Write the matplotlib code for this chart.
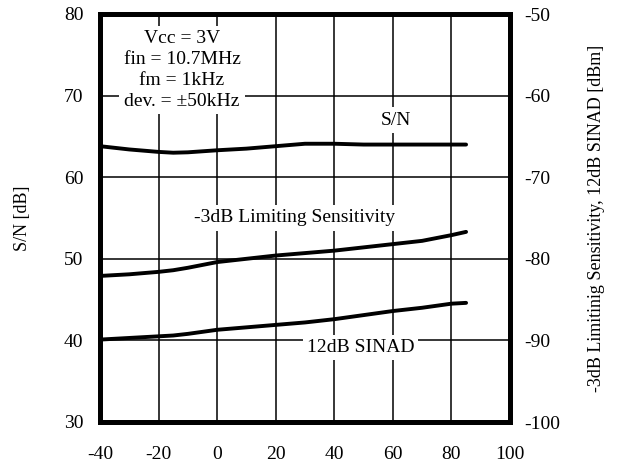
import matplotlib.pyplot as plt
import numpy as np

plt.rcParams['font.family'] = ['Liberation Serif', 'DejaVu Serif']
plt.rcParams['axes.unicode_minus'] = False

# Temperature [deg C]
temp = [-40, -30, -20, -15, -10, 0, 10, 20, 30, 40, 50, 60, 70, 80, 85]
# S/N [dB] (left axis)
sn = [63.8, 63.4, 63.1, 63.0, 63.05, 63.3, 63.5, 63.8, 64.1, 64.1, 64.0, 64.0, 64.0, 64.0, 64.0]
# -3dB limiting sensitivity, read on left scale (left = right + 130)
lim_sens = [47.9, 48.1, 48.4, 48.6, 48.9, 49.6, 50.0, 50.4, 50.7, 51.0, 51.4, 51.8, 52.2, 52.9, 53.3]
# 12dB SINAD, read on left scale
sinad = [40.1, 40.3, 40.5, 40.6, 40.8, 41.3, 41.6, 41.9, 42.2, 42.6, 43.1, 43.6, 44.0, 44.5, 44.6]

FS = 14

fig = plt.figure(figsize=(6.24, 4.69), dpi=100)
ax = fig.add_axes([100/624, 1 - 422/469, 410/624, 408/469])

ax.set_xlim(-40, 100)
ax.set_ylim(30, 80)
ax.set_xticks(np.arange(-40, 101, 20))
ax.set_yticks(np.arange(30, 81, 10))
ax.grid(True, color='black', linewidth=1.1)
ax.tick_params(axis='y', length=0, labelsize=FS, pad=12)
ax.tick_params(axis='x', length=0, labelsize=FS, pad=17)
for s in ax.spines.values():
    s.set_linewidth(3.5)

for ys in (sn, lim_sens, sinad):
    ax.plot(temp, ys, color='black', linewidth=2.8, solid_capstyle='round')

ax2 = ax.twinx()
ax2.set_ylim(-100, -50)
ax2.set_yticks(np.arange(-100, -49, 10))
ax2.tick_params(length=0, labelsize=FS, pad=10)
for s in ax2.spines.values():
    s.set_linewidth(3.5)

ax.set_ylabel('S/N [dB]', fontsize=13, labelpad=24)
ax2.set_ylabel('-3dB Limitinig Sensitivity, 12dB SINAD [dBm]', fontsize=13, labelpad=20)

bg = dict(facecolor='white', edgecolor='none', pad=3)
ax.text(-12, 73.1, 'Vcc = 3V\nfin = 10.7MHz\nfm = 1kHz\ndev. = \u00b150kHz',
        ha='center', va='center', fontsize=FS, linespacing=1.3, bbox=bg, zorder=5)
ax.text(61, 67, 'S/N', ha='center', va='center', fontsize=FS, bbox=bg, zorder=5)
ax.text(26.5, 55, '-3dB Limiting Sensitivity', ha='center', va='center', fontsize=FS, bbox=bg, zorder=5)
ax.text(49, 39.1, '12dB SINAD', ha='center', va='center', fontsize=FS, bbox=bg, zorder=5)

fig.savefig('out.png', dpi=100, facecolor='white')
